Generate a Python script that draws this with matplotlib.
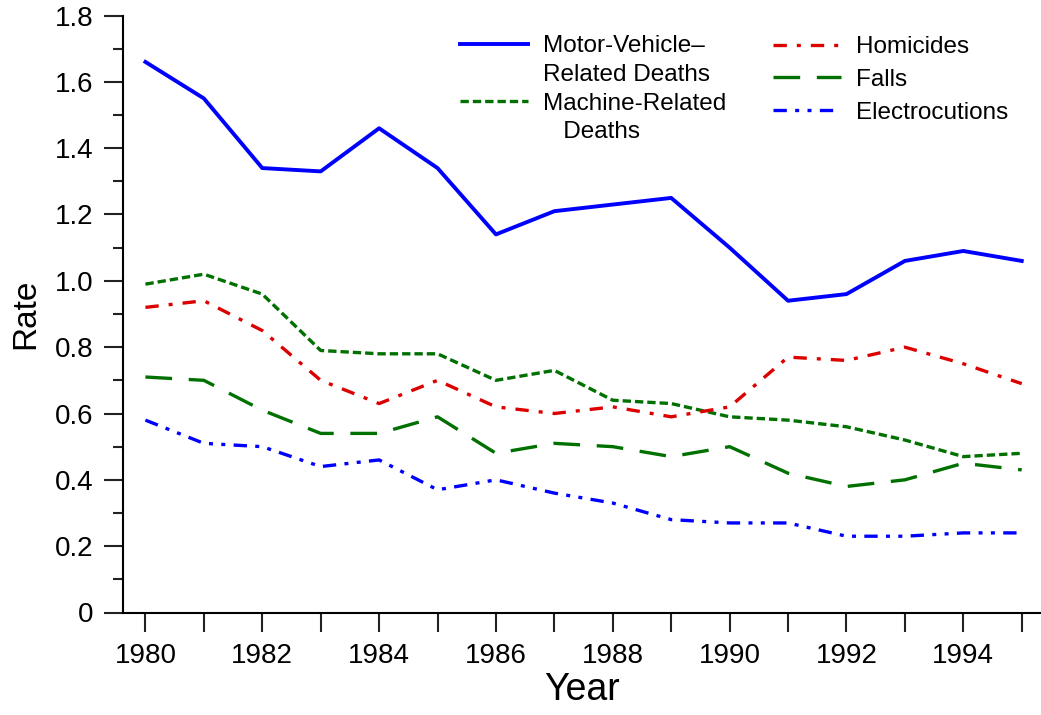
import matplotlib
matplotlib.use('Agg')
import matplotlib.pyplot as plt
from matplotlib.lines import Line2D
from matplotlib.ticker import MultipleLocator, FuncFormatter

plt.rcParams['font.family'] = ['Liberation Sans', 'DejaVu Sans']

years = list(range(1980, 1996))
motor = [1.66, 1.55, 1.34, 1.33, 1.46, 1.34, 1.14, 1.21, 1.23, 1.25, 1.10, 0.94, 0.96, 1.06, 1.09, 1.06]
machine = [0.99, 1.02, 0.96, 0.79, 0.78, 0.78, 0.70, 0.73, 0.64, 0.63, 0.59, 0.58, 0.56, 0.52, 0.47, 0.48]
homicides = [0.92, 0.94, 0.85, 0.70, 0.63, 0.70, 0.62, 0.60, 0.62, 0.59, 0.62, 0.77, 0.76, 0.80, 0.75, 0.69]
falls = [0.71, 0.70, 0.61, 0.54, 0.54, 0.59, 0.48, 0.51, 0.50, 0.47, 0.50, 0.42, 0.38, 0.40, 0.45, 0.43]
electro = [0.58, 0.51, 0.50, 0.44, 0.46, 0.37, 0.40, 0.36, 0.33, 0.28, 0.27, 0.27, 0.23, 0.23, 0.24, 0.24]

W, H = 1041, 715
fig = plt.figure(figsize=(W/100, H/100), dpi=100)
ax = fig.add_axes([123/W, (H-612.5)/H, (W-123)/W, (612.5-15.5)/H])

blue = '#0000ff'
green = '#007000'
red = '#dd0000'

l_motor, = ax.plot(years, motor, color=blue, lw=2.8, solid_joinstyle='round')
l_mach, = ax.plot(years, machine, color=green, lw=2.4, dashes=(2.5, 1.2))
l_hom, = ax.plot(years, homicides, color=red, lw=2.4, dashes=(4, 3, 1.2, 3))
l_fall, = ax.plot(years, falls, color=green, lw=2.4, dashes=(8, 5))
l_elec, = ax.plot(years, electro, color=blue, lw=2.4, dashes=(4, 2.5, 1.2, 2.5, 1.2, 2.5))

ax.set_xlim(1979.616, 1995.33)
ax.set_ylim(0, 1.8)
ax.set_xticks(years)
ax.set_xticklabels([str(y) if y % 2 == 0 else '' for y in years])
ax.yaxis.set_major_locator(MultipleLocator(0.2))
ax.yaxis.set_minor_locator(MultipleLocator(0.1))
ax.yaxis.set_major_formatter(FuncFormatter(lambda v, p: '0' if abs(v) < 1e-9 else '%.1f' % v))

for s in ['top', 'right']:
    ax.spines[s].set_visible(False)
for s in ['left', 'bottom']:
    ax.spines[s].set_linewidth(1.5)
ax.tick_params(axis='both', which='major', length=14, width=1.5, labelsize=20, color='#222222')
ax.tick_params(axis='y', which='minor', length=7, width=1.5, color='#222222')
ax.tick_params(axis='y', which='major', pad=7)
ax.tick_params(axis='x', which='major', pad=8)

ax.set_ylabel('Rate', fontsize=24, labelpad=10)
ax.set_xlabel('Year', fontsize=27, labelpad=2)

blank = Line2D([], [], color='none')
leg1 = ax.legend([l_motor, blank, l_mach, blank],
                 ['Motor-Vehicle\u2013', 'Related Deaths', 'Machine-Related', '   Deaths'],
                 loc='upper left', bbox_to_anchor=(460/W, (H-35)/H), bbox_transform=fig.transFigure,
                 frameon=False, fontsize=17.5, handlelength=2.8, handletextpad=0.6,
                 labelspacing=0.28, borderpad=0, borderaxespad=0)
ax.add_artist(leg1)
ax.legend([l_hom, l_fall, l_elec], ['Homicides', 'Falls', 'Electrocutions'],
          loc='upper left', bbox_to_anchor=(773/W, (H-36)/H), bbox_transform=fig.transFigure,
          frameon=False, fontsize=17.5, handlelength=2.8, handletextpad=0.6,
          labelspacing=0.45, borderpad=0, borderaxespad=0)

fig.savefig('out.png', dpi=100)
